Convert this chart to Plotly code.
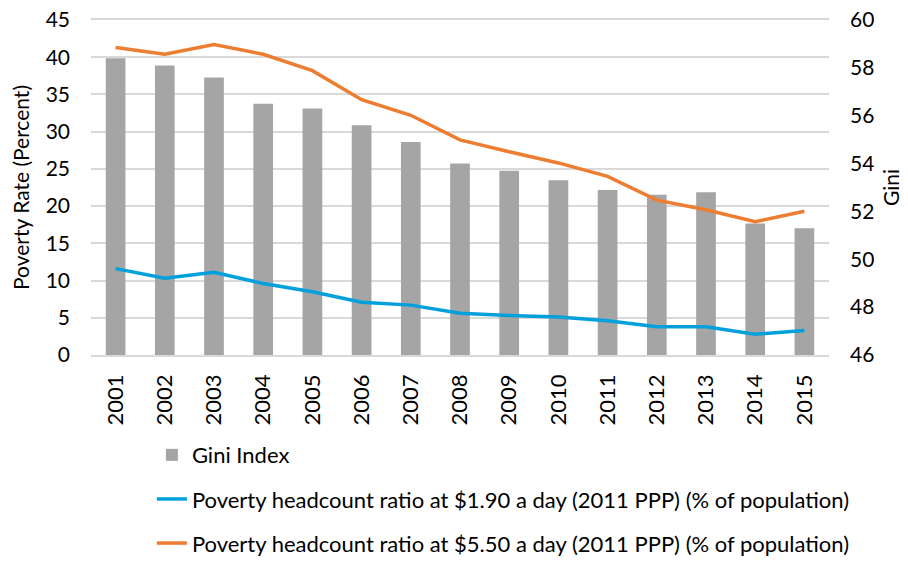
import plotly.graph_objects as go

years = ["2001", "2002", "2003", "2004", "2005", "2006", "2007", "2008",
         "2009", "2010", "2011", "2012", "2013", "2014", "2015"]
gini = [58.4, 58.1, 57.6, 56.5, 56.3, 55.6, 54.9, 54.0, 53.7, 53.3, 52.9, 52.7, 52.8, 51.5, 51.3]
pov_190 = [11.6, 10.3, 11.1, 9.6, 8.5, 7.1, 6.7, 5.6, 5.3, 5.1, 4.6, 3.8, 3.8, 2.8, 3.3]
pov_550 = [41.3, 40.4, 41.7, 40.4, 38.2, 34.3, 32.2, 28.9, 27.3, 25.8, 24.0, 20.8, 19.5, 17.9, 19.3]

FONT = "Lato"
TXT = "#000000"
AX = 21
LEG = 22

fig = go.Figure()
fig.add_trace(go.Bar(
    x=years, y=gini, name="Gini Index", yaxis="y", width=0.4,
    marker=dict(color="#A5A5A5", line=dict(width=0)),
    legendgroup="g1",
))
fig.add_trace(go.Scatter(
    x=years, y=pov_190, yaxis="y2", mode="lines",
    name="Poverty headcount ratio at $1.90 a day (2011 PPP) (% of population)",
    line=dict(color="#00A0DC", width=3.5), legendgroup="g2",
))
fig.add_trace(go.Scatter(
    x=years, y=pov_550, yaxis="y2", mode="lines",
    name="Poverty headcount ratio at $5.50 a day (2011 PPP) (% of population)",
    line=dict(color="#ED7D31", width=3.5), legendgroup="g3",
))

fig.update_layout(
    width=900, height=553,
    margin=dict(l=83, r=79, t=12, b=206, autoexpand=False),
    paper_bgcolor="white", plot_bgcolor="white",
    font=dict(family=FONT, size=AX, color=TXT),
    showlegend=True,
    legend=dict(
        x=0.0825, xanchor="left", y=-0.236, yanchor="top",
        orientation="v", tracegroupgap=12.5,
        font=dict(family=FONT, size=LEG, color=TXT),
        bgcolor="rgba(0,0,0,0)",
    ),
    xaxis=dict(
        type="category", tickangle=-90, showgrid=False,
        showline=True, mirror=True, linecolor="#D9D9D9", linewidth=1.5,
        ticks="", ticklabelstandoff=9,
        tickfont=dict(family=FONT, size=22, color=TXT),
    ),
    yaxis=dict(
        side="right", range=[46, 60], dtick=2, tick0=46,
        showgrid=False, zeroline=False, showline=False,
        ticks="", ticklabelstandoff=20, ticklabeloverflow="allow",
        title=dict(text="Gini", font=dict(family=FONT, size=AX, color=TXT), standoff=10),
        tickfont=dict(family=FONT, size=AX, color=TXT),
    ),
    yaxis2=dict(
        side="left", overlaying="y", range=[0, 45], dtick=5, tick0=0,
        showgrid=True, gridcolor="#D9D9D9", gridwidth=1.5,
        zeroline=False, showline=False,
        ticks="", ticklabelstandoff=20, ticklabeloverflow="allow",
        title=dict(text="Poverty Rate (Percent)", font=dict(family=FONT, size=AX, color=TXT), standoff=18),
        tickfont=dict(family=FONT, size=AX, color=TXT),
    ),
    bargap=0.6,
)

fig.write_html("out.html")
